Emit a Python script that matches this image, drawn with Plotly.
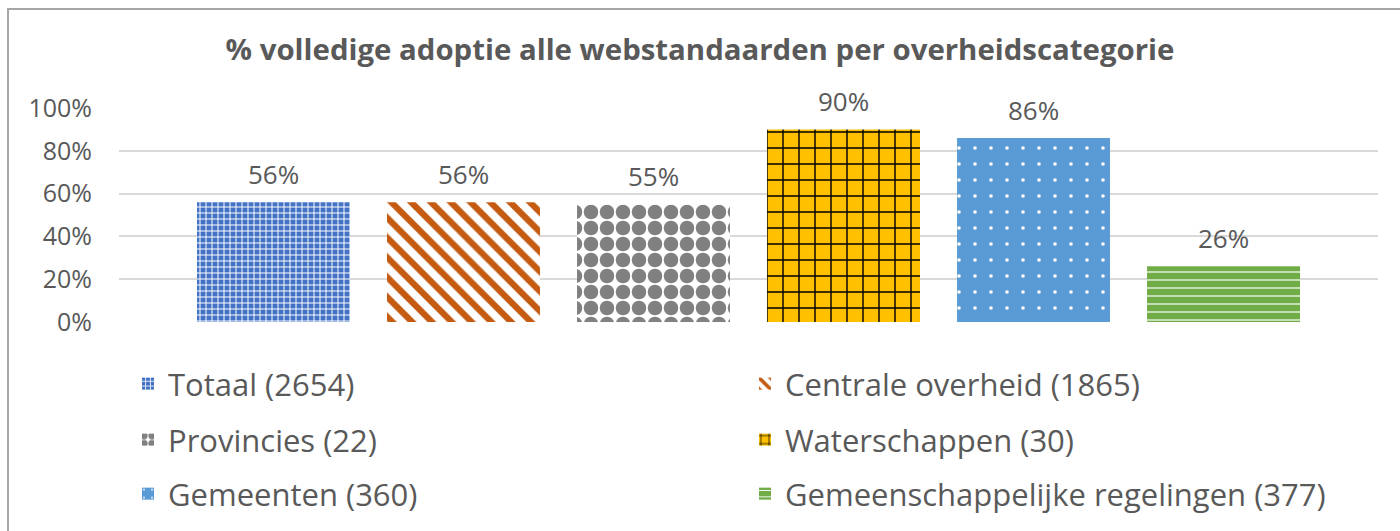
import plotly.graph_objects as go

categories = ["Totaal (2654)", "Centrale overheid (1865)", "Provincies (22)",
              "Waterschappen (30)", "Gemeenten (360)", "Gemeenschappelijke regelingen (377)"]
values = [0.56, 0.56, 0.55, 0.90, 0.86, 0.26]
tick_vals = [0, 0.2, 0.4, 0.6, 0.8, 1.0]
tick_text = ["0%", "20%", "40%", "60%", "80%", "100%"]
title_text = "% volledige adoptie alle webstandaarden per overheidscategorie"

styles = [
    dict(color="#4472C4", pattern=dict(shape="+", fgcolor="white", bgcolor="#4472C4", size=6, solidity=0.3)),
    dict(color="white", pattern=dict(shape="\\", fgcolor="#C55A11", bgcolor="white", size=14, solidity=0.45)),
    dict(color="#808080", pattern=dict(shape=".", fgcolor="#808080", bgcolor="white", size=16, solidity=0.65)),
    dict(color="#FFC000", pattern=dict(shape="+", fgcolor="black", bgcolor="#FFC000", size=16, solidity=0.17)),
    dict(color="#5B9BD5", pattern=dict(shape=".", fgcolor="white", bgcolor="#5B9BD5", size=16, solidity=0.04)),
    dict(color="#70AD47", pattern=dict(shape="-", fgcolor="white", bgcolor="#70AD47", size=8, solidity=0.15)),
]
legend_ids = ["legend", "legend", "legend2", "legend2", "legend3", "legend3"]

FONT = "Open Sans"
GRAY = "#595959"

fig = go.Figure()
for i, (cat, val) in enumerate(zip(categories, values)):
    pat = dict(styles[i]["pattern"], fgopacity=1)
    fig.add_trace(go.Bar(
        x=[cat], y=[val], name=cat,
        marker=dict(color=styles[i]["color"], pattern=pat, line=dict(width=0)),
        legend=legend_ids[i],
        hoverinfo="skip",
    ))
    fig.add_annotation(x=cat, y=val, text=f"{round(val*100)}%", showarrow=False,
                       yanchor="bottom", yshift=8,
                       font=dict(family=FONT, size=26, color=GRAY))

legend_common = dict(orientation="h", xref="container", yref="container",
                     x=128/1400, xanchor="left", yanchor="middle",
                     entrywidth=572, entrywidthmode="pixels", itemwidth=30,
                     font=dict(family=FONT, size=31, color=GRAY),
                     bgcolor="rgba(0,0,0,0)", traceorder="normal")

fig.update_layout(
    width=1400, height=531,
    margin=dict(l=119, r=22, t=108, b=209, autoexpand=False),
    paper_bgcolor="white", plot_bgcolor="white",
    barmode="overlay", bargap=0.195,
    title=dict(text="<b>" + title_text + "</b>", x=0.5, xanchor="center",
               y=1 - 50/531, yanchor="middle", yref="container",
               font=dict(family=FONT, size=29.4, color=GRAY)),
    xaxis=dict(showticklabels=False, showgrid=False, zeroline=False, showline=False,
               range=[-0.813, 5.813], fixedrange=True),
    yaxis=dict(range=[0, 1], tickvals=tick_vals, ticktext=tick_text,
               showgrid=True, gridcolor="#D9D9D9", gridwidth=2, zeroline=False,
               showline=False, ticklabelstandoff=26,
               tickfont=dict(family=FONT, size=25, color=GRAY)),
    legend=dict(legend_common, y=1 - 384/531),
    legend2=dict(legend_common, y=1 - 440/531),
    legend3=dict(legend_common, y=1 - 494/531),
    showlegend=True,
)

fig.add_shape(type="rect", xref="paper", yref="paper",
              x0=(8-119)/1259, x1=(1402-119)/1259, y0=(322-540)/214, y1=(322-9)/214,
              line=dict(color="#A6A6A6", width=2), fillcolor="rgba(0,0,0,0)", layer="below")

fig.write_html("out.html", config={"displayModeBar": False},
               post_script="document.body.style.margin='0';document.body.style.overflow='hidden';")
